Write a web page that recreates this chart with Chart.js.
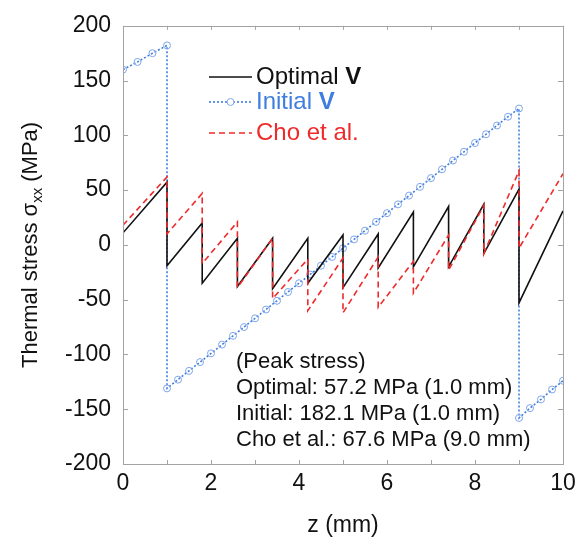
<!DOCTYPE html>
<html>
<head>
<meta charset="utf-8">
<script src="https://cdn.jsdelivr.net/npm/chart.js@4.4.0/dist/chart.umd.min.js"></script>
<style>
  html, body { margin: 0; padding: 0; background: #fff; }
  #wrap { width: 586px; height: 541px; }
</style>
</head>
<body>
<div id="wrap"><canvas id="stressChart" width="586" height="541"></canvas></div>
<script>
// z (mm) / stress (MPa); repeated z = jump at an interface
const optZ = [0, 1, 1, 1.8, 1.8, 2.6, 2.6, 3.4, 3.4, 4.2, 4.2, 5.0, 5.0, 5.8, 5.8, 6.6, 6.6, 7.4, 7.4, 8.2, 8.2, 9, 9, 10];
const optStress = [11, 57.2, -19, 20, -35, 6, -38, 6, -40, 6, -35, 9, -39, 10, -21, 30, -20, 35, -20, 37, -8, 51, -53, 31];

const choZ = [0, 1, 1, 1.8, 1.8, 2.6, 2.6, 3.4, 3.4, 4.2, 4.2, 5.0, 5.0, 5.8, 5.8, 6.6, 6.6, 7.4, 7.4, 8.2, 8.2, 9, 9, 10];
const choStress = [18, 62, 10, 47, -17, 21, -39, 6, -49, -13, -60, -12, -62, -11, -57, -15, -44, 9, -23, 36, -8, 67.6, -3, 65];

const initZ = [0, 0.33, 0.67, 1,
  1, 1.25, 1.5, 1.75, 2, 2.25, 2.5, 2.75, 3, 3.25, 3.5, 3.75, 4, 4.25, 4.5, 4.75, 5,
  5.25, 5.5, 5.75, 6, 6.25, 6.5, 6.75, 7, 7.25, 7.5, 7.75, 8, 8.25, 8.5, 8.75, 9,
  9, 9.25, 9.5, 9.75, 10];
const initStress = [160, 167, 175, 182.1,
  -131, -123, -115, -107, -99, -91, -83, -75, -67, -59, -51, -43, -35, -27, -19, -11, -3,
  5, 13, 21, 29, 37, 45, 53, 61, 69, 77, 85, 93, 101, 109, 117, 124.5,
  -158, -149, -141, -132, -124];

const xLabelled = [0, 2, 4, 6, 8, 10];
const legendNames = ['Optimal ', 'Initial ', 'Cho et al.'];
const peakNotes = ['(Peak stress)', 'Optimal: 57.2 MPa (1.0 mm)', 'Initial: 182.1 MPa (1.0 mm)', 'Cho et al.: 67.6 MPa (9.0 mm)'];

const FONT = '"Liberation Sans", Arial, sans-serif';
const BLACK = '#111111';
const BLUE = '#3f7ddf';
const RED = '#ee2a2a';

const toPoints = (zs, vals) => zs.map((z, i) => ({ x: z, y: vals[i] }));

function richText(ctx, x, y, parts) {
    parts.forEach(p => {
        ctx.font = p.font;
        ctx.fillStyle = p.color;
        ctx.fillText(p.text, x, y);
        x += ctx.measureText(p.text).width;
    });
}

// frame, inward ticks, legend, note and axis titles
const decorations = {
    id: 'decorations',
    afterDatasetsDraw(chart) {
        const { ctx, chartArea: a, scales: { x, y } } = chart;
        ctx.save();
        ctx.strokeStyle = '#a3a3a3';
        ctx.lineWidth = 1;
        ctx.strokeRect(Math.round(a.left) + 0.5, Math.round(a.top) + 0.5,
            Math.round(a.right - a.left), Math.round(a.bottom - a.top));
        ctx.beginPath();
        x.ticks.forEach(t => {
            const px = Math.round(x.getPixelForValue(t.value)) + 0.5;
            ctx.moveTo(px, a.bottom); ctx.lineTo(px, a.bottom - 4);
            ctx.moveTo(px, a.top); ctx.lineTo(px, a.top + 4);
        });
        y.ticks.forEach(t => {
            const py = Math.round(y.getPixelForValue(t.value)) + 0.5;
            ctx.moveTo(a.left, py); ctx.lineTo(a.left + 5, py);
            ctx.moveTo(a.right, py); ctx.lineTo(a.right - 5, py);
        });
        ctx.stroke();

        // legend
        const lx0 = 209, lx1 = 252, tx = 256;
        const rows = [77, 102, 133];
        ctx.textBaseline = 'middle';
        ctx.lineWidth = 1.6;

        ctx.strokeStyle = BLACK;
        ctx.setLineDash([]);
        ctx.beginPath(); ctx.moveTo(lx0, rows[0]); ctx.lineTo(lx1, rows[0]); ctx.stroke();
        richText(ctx, tx, rows[0], [
            { text: legendNames[0], font: '24px ' + FONT, color: BLACK },
            { text: 'V', font: 'bold 24px ' + FONT, color: BLACK }
        ]);

        ctx.strokeStyle = BLUE;
        ctx.setLineDash([2, 2]);
        ctx.beginPath(); ctx.moveTo(lx0, rows[1]); ctx.lineTo(lx1, rows[1]); ctx.stroke();
        ctx.setLineDash([]);
        ctx.lineWidth = 1;
        ctx.fillStyle = '#fff';
        ctx.strokeStyle = '#7fa6ea';
        ctx.beginPath(); ctx.arc((lx0 + lx1) / 2, rows[1], 3.5, 0, Math.PI * 2); ctx.fill(); ctx.stroke();
        richText(ctx, tx, rows[1], [
            { text: legendNames[1], font: '24px ' + FONT, color: BLUE },
            { text: 'V', font: 'bold 24px ' + FONT, color: BLUE }
        ]);

        ctx.lineWidth = 1.6;
        ctx.strokeStyle = RED;
        ctx.setLineDash([6, 4]);
        ctx.beginPath(); ctx.moveTo(lx0, rows[2]); ctx.lineTo(lx1, rows[2]); ctx.stroke();
        ctx.setLineDash([]);
        richText(ctx, tx, rows[2], [{ text: legendNames[2], font: '24px ' + FONT, color: RED }]);

        // peak stress note
        ctx.font = '22px ' + FONT;
        ctx.fillStyle = BLACK;
        peakNotes.forEach((s, i) => ctx.fillText(s, 236, 362 + i * 26));

        // axis titles
        ctx.textAlign = 'center';
        ctx.font = '23px ' + FONT;
        ctx.fillText('z (mm)', (a.left + a.right) / 2, 526);

        ctx.translate(31, (a.top + a.bottom) / 2);
        ctx.rotate(-Math.PI / 2);
        ctx.textAlign = 'left';
        const main = 'Thermal stress \u03c3', sub = 'xx', tail = ' (MPa)';
        const big = '22px ' + FONT, small = '15px ' + FONT;
        ctx.font = big; const w1 = ctx.measureText(main).width, w3 = ctx.measureText(tail).width;
        ctx.font = small; const w2 = ctx.measureText(sub).width;
        let sx = -(w1 + w2 + w3) / 2;
        ctx.font = big; ctx.fillText(main, sx, 0); sx += w1;
        ctx.font = small; ctx.fillText(sub, sx, 7); sx += w2;
        ctx.font = big; ctx.fillText(tail, sx, 0);
        ctx.restore();
    }
};

new Chart(document.getElementById('stressChart'), {
    type: 'line',
    data: {
        datasets: [{
            label: 'Cho et al.',
            data: toPoints(choZ, choStress),
            borderColor: RED,
            borderWidth: 1.6,
            borderDash: [6, 4],
            pointRadius: 0,
            tension: 0
        }, {
            label: 'Optimal V',
            data: toPoints(optZ, optStress),
            borderColor: BLACK,
            borderWidth: 1.6,
            pointRadius: 0,
            tension: 0
        }, {
            label: 'Initial V',
            data: toPoints(initZ, initStress),
            borderColor: BLUE,
            borderWidth: 1.6,
            borderDash: [2, 2],
            pointRadius: 3.5,
            pointBorderWidth: 1,
            pointBorderColor: '#7fa6ea',
            pointBackgroundColor: 'rgba(255,255,255,0)',
            tension: 0
        }]
    },
    options: {
        responsive: false,
        animation: false,
        layout: { padding: { top: 23, right: 23, left: 0, bottom: 0 } },
        plugins: { legend: { display: false }, tooltip: { enabled: false } },
        scales: {
            x: {
                type: 'linear',
                min: 0, max: 10,
                grid: { display: false, drawTicks: false },
                border: { display: false },
                ticks: {
                    stepSize: 1,
                    autoSkip: false,
                    maxRotation: 0,
                    padding: 6,
                    color: BLACK,
                    font: { family: FONT, size: 23 },
                    callback: v => xLabelled.includes(v) ? v : ''
                },
                afterFit: s => { s.height = 77; }
            },
            y: {
                min: -200, max: 200,
                grid: { display: false, drawTicks: false },
                border: { display: false },
                ticks: {
                    stepSize: 50,
                    padding: 12,
                    color: BLACK,
                    font: { family: FONT, size: 23 }
                },
                afterFit: s => { s.width = 123; }
            }
        }
    },
    plugins: [decorations]
});
</script>
</body>
</html>
